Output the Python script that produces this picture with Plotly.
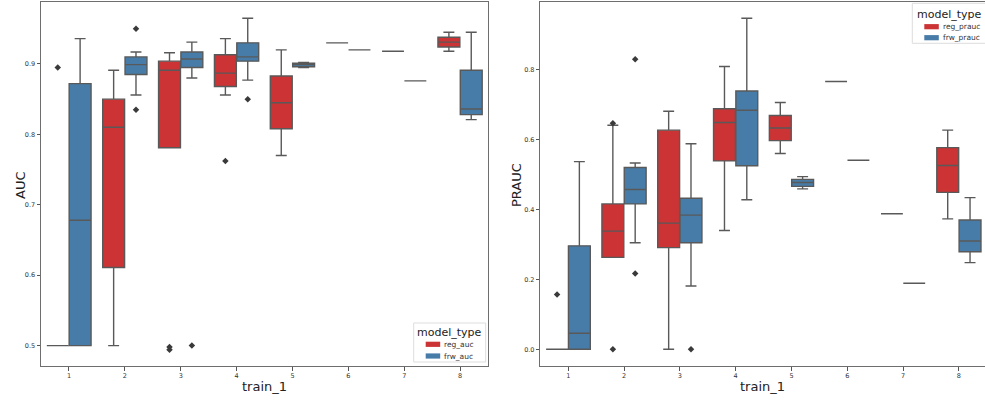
import plotly.graph_objects as go
from plotly.subplots import make_subplots

# ---------------- data ----------------
categories = ["1", "2", "3", "4", "5", "6", "7", "8"]

# AUC panel
auc_reg_q1 = [0.500, 0.611, 0.781, 0.868, 0.808, 0.930, 0.918, 0.924]
auc_reg_med = [0.500, 0.810, 0.891, 0.887, 0.845, 0.930, 0.918, 0.931]
auc_reg_q3 = [0.500, 0.850, 0.904, 0.913, 0.883, 0.930, 0.918, 0.938]
auc_reg_lo = [0.500, 0.500, 0.781, 0.856, 0.770, 0.930, 0.918, 0.918]
auc_reg_hi = [0.500, 0.891, 0.916, 0.936, 0.920, 0.930, 0.918, 0.945]

auc_frw_q1 = [0.500, 0.885, 0.895, 0.904, 0.896, 0.920, 0.876, 0.828]
auc_frw_med = [0.678, 0.899, 0.907, 0.910, 0.899, 0.920, 0.876, 0.836]
auc_frw_q3 = [0.872, 0.910, 0.917, 0.930, 0.901, 0.920, 0.876, 0.891]
auc_frw_lo = [0.500, 0.856, 0.880, 0.877, 0.895, 0.920, 0.876, 0.821]
auc_frw_hi = [0.936, 0.917, 0.931, 0.965, 0.902, 0.920, 0.876, 0.945]

auc_reg_out_cat = [0, 2, 2, 3]
auc_reg_out_val = [0.895, 0.498, 0.494, 0.762]
auc_frw_out_cat = [1, 1, 2, 3]
auc_frw_out_val = [0.950, 0.835, 0.500, 0.850]

# PRAUC panel
pr_reg_q1 = [0.000, 0.263, 0.291, 0.539, 0.597, 0.766, 0.388, 0.449]
pr_reg_med = [0.000, 0.338, 0.361, 0.649, 0.633, 0.766, 0.388, 0.526]
pr_reg_q3 = [0.000, 0.416, 0.627, 0.688, 0.669, 0.766, 0.388, 0.577]
pr_reg_lo = [0.000, 0.263, 0.000, 0.340, 0.560, 0.766, 0.388, 0.373]
pr_reg_hi = [0.000, 0.641, 0.681, 0.809, 0.706, 0.766, 0.388, 0.627]

pr_frw_q1 = [0.000, 0.416, 0.305, 0.525, 0.466, 0.541, 0.189, 0.279]
pr_frw_med = [0.046, 0.457, 0.384, 0.684, 0.477, 0.541, 0.189, 0.310]
pr_frw_q3 = [0.296, 0.520, 0.432, 0.739, 0.486, 0.541, 0.189, 0.370]
pr_frw_lo = [0.000, 0.305, 0.181, 0.428, 0.459, 0.541, 0.189, 0.248]
pr_frw_hi = [0.537, 0.533, 0.588, 0.947, 0.494, 0.541, 0.189, 0.434]

pr_reg_out_cat = [0, 1, 1]
pr_reg_out_val = [0.157, 0.647, 0.000]
pr_frw_out_cat = [1, 1, 2]
pr_frw_out_val = [0.830, 0.217, 0.000]

# ---------------- style ----------------
RED = "#CB3335"
BLUE = "#477CA8"
EDGE = "#595959"
FONT = "DejaVu Sans"
OFF = 0.2
BW = 0.392

fig = make_subplots(rows=1, cols=2)


def add_box(col, q1, med, q3, lo, hi, color, off):
    xs = [i + off for i in range(len(categories))]
    fig.add_trace(go.Box(
        x=xs, q1=q1, median=med, q3=q3, lowerfence=lo, upperfence=hi,
        width=BW, fillcolor=color, line=dict(color=EDGE, width=1.4),
        whiskerwidth=0.5, boxpoints=False, showlegend=False, hoverinfo="skip",
    ), row=1, col=col)


def add_out(col, cats, vals, off):
    fig.add_trace(go.Scatter(
        x=[c + off for c in cats], y=vals, mode="markers",
        marker=dict(symbol="diamond", size=5, color="#3a3a3a"),
        showlegend=False, hoverinfo="skip",
    ), row=1, col=col)


add_box(1, auc_reg_q1, auc_reg_med, auc_reg_q3, auc_reg_lo, auc_reg_hi, RED, -OFF)
add_box(1, auc_frw_q1, auc_frw_med, auc_frw_q3, auc_frw_lo, auc_frw_hi, BLUE, OFF)
add_out(1, auc_reg_out_cat, auc_reg_out_val, -OFF)
add_out(1, auc_frw_out_cat, auc_frw_out_val, OFF)

add_box(2, pr_reg_q1, pr_reg_med, pr_reg_q3, pr_reg_lo, pr_reg_hi, RED, -OFF)
add_box(2, pr_frw_q1, pr_frw_med, pr_frw_q3, pr_frw_lo, pr_frw_hi, BLUE, OFF)
add_out(2, pr_reg_out_cat, pr_reg_out_val, -OFF)
add_out(2, pr_frw_out_cat, pr_frw_out_val, OFF)

W, H = 985, 400


def px(x):
    return x / W


def py(y):
    return 1 - y / H


axis_common = dict(
    showgrid=False, zeroline=False, showline=True, mirror=True,
    linecolor="#6e6e6e", linewidth=1, ticks="outside", ticklen=3.5,
    tickcolor="#555555", tickfont=dict(family=FONT, size=6.5, color="#333333"),
)

fig.update_layout(
    width=W, height=H, margin=dict(l=0, r=0, t=0, b=0),
    paper_bgcolor="white", plot_bgcolor="white", boxmode="overlay",
    xaxis=dict(domain=[px(41), px(488)], range=[-0.5, 7.5],
               tickvals=list(range(8)), ticktext=categories, **axis_common),
    yaxis=dict(domain=[py(366), py(2)], range=[0.471, 0.988],
               tickvals=[0.5, 0.6, 0.7, 0.8, 0.9],
               ticktext=["0.5", "0.6", "0.7", "0.8", "0.9"], **axis_common),
    xaxis2=dict(domain=[px(540.3), 1.0], range=[-0.5, 7.468],
                tickvals=list(range(8)), ticktext=categories, **axis_common),
    yaxis2=dict(domain=[py(366), py(2)], range=[-0.0477, 0.9935],
                tickvals=[0.0, 0.2, 0.4, 0.6, 0.8],
                ticktext=["0.0", "0.2", "0.4", "0.6", "0.8"], **axis_common),
)

ann = []
shapes = []
lab_font = dict(family=FONT, size=13, color="#222222")


def text(t, x, y, font, angle=0, xanchor="center"):
    ann.append(dict(text=t, x=px(x), y=py(y), xref="paper", yref="paper",
                    xanchor=xanchor, yanchor="middle", showarrow=False,
                    textangle=angle, font=font))


text("AUC", 20, 185, lab_font, angle=-90)
text("train_1", 264.5, 386, lab_font)
text("PRAUC", 516, 185, lab_font, angle=-90)
text("train_1", 762, 386, lab_font)


def legend(x0, x1, y0, y1, title_y, rows, labels):
    shapes.append(dict(type="rect", xref="paper", yref="paper", layer="above",
                       x0=px(x0), x1=px(x1), y0=py(y1), y1=py(y0),
                       fillcolor="rgba(255,255,255,0.85)",
                       line=dict(color="#dddddd", width=1)))
    text("model_type", (x0 + x1) / 2, title_y,
         dict(family=FONT, size=11, color="#222222"))
    for (ry, color, lab) in zip(rows, [RED, BLUE], labels):
        shapes.append(dict(type="rect", xref="paper", yref="paper", layer="above",
                           x0=px(x0 + 12), x1=px(x0 + 26.5),
                           y0=py(ry + 2.6), y1=py(ry - 2.6),
                           fillcolor=color, line=dict(width=0)))
        text(lab, x0 + 28.5, ry, dict(family=FONT, size=7.5, color="#333333"),
             xanchor="left")


legend(413.7, 485.7, 323, 362, 332.5, [344.3, 356], ["reg_auc", "frw_auc"])
legend(912.3, 986, 3.3, 43.3, 14, [26.7, 37.7], ["reg_prauc", "frw_prauc"])

fig.update_layout(annotations=ann, shapes=shapes)
fig.write_html("out.html")
